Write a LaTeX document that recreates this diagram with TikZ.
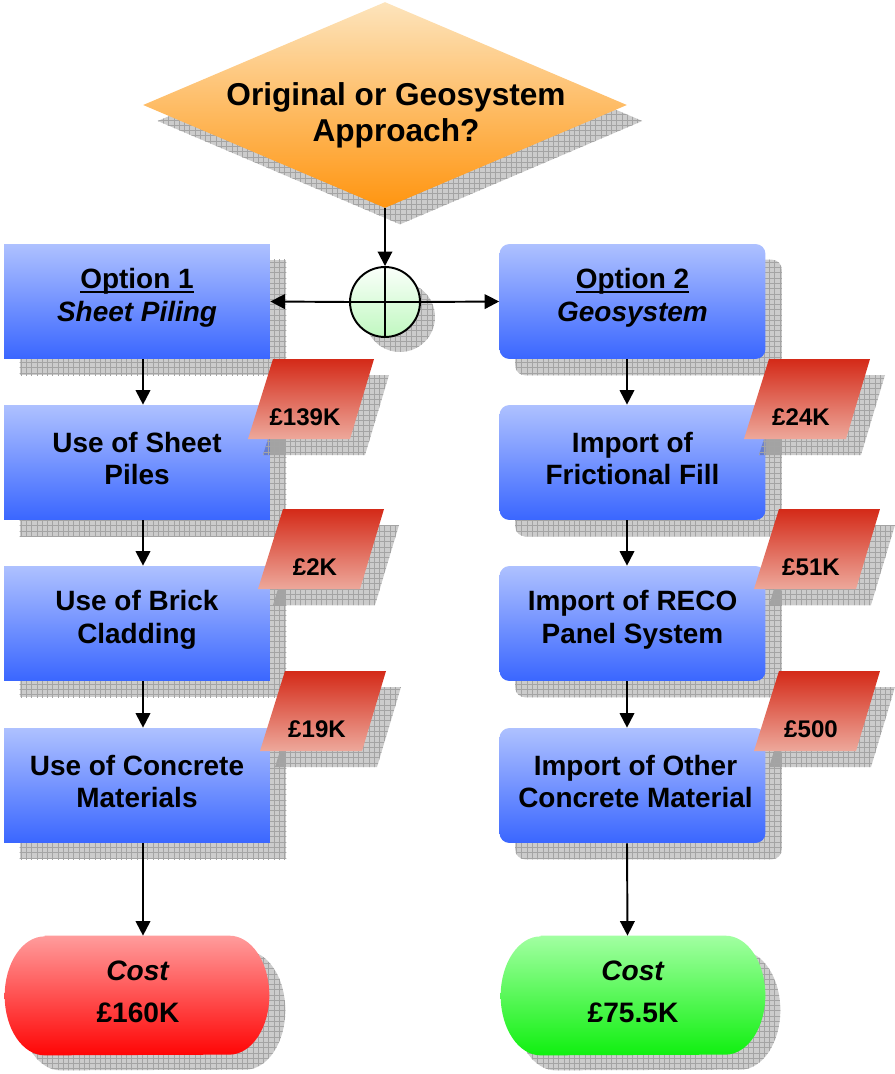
\documentclass[tikz,border=0pt]{standalone}
\usepackage{fontspec}
\setmainfont{Liberation Sans}
\usetikzlibrary{arrows.meta,shapes.geometric,patterns}

\definecolor{boxtop}{HTML}{AEC1FF}
\definecolor{boxbot}{HTML}{3A66FF}
\definecolor{diatop}{HTML}{FDE4BC}
\definecolor{diabot}{HTML}{FF9510}
\definecolor{hubtop}{HTML}{FAFFFA}
\definecolor{hubbot}{HTML}{C0F8C0}
\definecolor{tagtop}{HTML}{D42A18}
\definecolor{tagmid}{HTML}{E27C6C}
\definecolor{tagbot}{HTML}{EDA89B}
\definecolor{redtop}{HTML}{FF9C9C}
\definecolor{redbot}{HTML}{FF0505}
\definecolor{greentop}{HTML}{A2FFA2}
\definecolor{greenbot}{HTML}{10F010}
\definecolor{gridline}{HTML}{A4A4A4}

\pgfdeclarelayer{shadows}
\pgfdeclarelayer{tagshadows}
\pgfdeclarelayer{tags}
\pgfsetlayers{shadows,main,tagshadows,tags}

% underline with a heavier rule
\newcommand\optul[1]{\setbox0\hbox{#1}\rlap{\rule[-2.6pt]{\wd0}{1.1pt}}\box0}

% outline of a terminal with elliptic ends
\newcommand\stadium[1]{([xshift=0.8cm]#1.north west) -- ([xshift=-0.8cm]#1.north east)
  arc[start angle=90,end angle=-90,x radius=0.8cm,y radius=1.19cm]
  -- ([xshift=0.8cm]#1.south west)
  arc[start angle=270,end angle=90,x radius=0.8cm,y radius=1.19cm] -- cycle}

% cost tag: parallelogram with its shadow and amount
\newcommand\pricetag[3]{%
  \coordinate (#1) at #2;
  \begin{pgfonlayer}{tagshadows}
    \path[shadowfill] ([shift={(15,16)}]#1) -- ++(101,0) -- ++(-24,80) -- ++(-102,0) -- cycle;
  \end{pgfonlayer}
  \begin{pgfonlayer}{tags}
    \path[tagfill] (#1) -- ++(101,0) -- ++(-24,80) -- ++(-102,0) -- cycle;
    \node[tagtext] (#1t) at ([shift={(32,58)}]#1) {#3};
  \end{pgfonlayer}}

\begin{document}
\begin{tikzpicture}[x=0.02cm,y=-0.02cm,
  shadowfill/.style={fill=black, fill opacity=0.2,
    postaction={fill opacity=0.55, pattern=grid, pattern color=gridline}},
  optbox/.style={rectangle, minimum width=5.32cm, minimum height=2.3cm,
    inner sep=0, top color=boxtop, bottom color=boxbot},
  optround/.style={optbox, rounded corners=0.2cm},
  boxtext/.style={font=\fontsize{15.9}{18.7}\selectfont\bfseries, align=center},
  costbox/.style={rectangle, minimum width=5.28cm, minimum height=2.38cm, inner sep=0},
  costtext/.style={font=\fontsize{16}{23.8}\selectfont\bfseries, align=center},
  tagfill/.style={top color=tagtop, middle color=tagmid, bottom color=tagbot},
  tagtext/.style={font=\fontsize{13.7}{16}\selectfont\bfseries},
  arr/.style={line width=1.1pt, -{Triangle[length=0.29cm,width=0.29cm]}},
  link/.style={line width=1.1pt}]

\useasboundingbox (0,0) rectangle (895,1074);

% decision
\node[diamond, shape aspect=2.35, minimum width=9.68cm, minimum height=4.12cm,
  inner sep=0, top color=diatop, bottom color=diabot] (ask) at (385,105) {};
\node[font=\fontsize{18}{20.4}\selectfont\bfseries, align=center] (askt) at (396,115)
  {Original or Geosystem\\Approach?};

% junction
\node[circle, minimum size=1.4cm, inner sep=0, draw, line width=1.1pt,
  top color=hubtop, bottom color=hubbot] (hub) at (385,302) {};
\draw[link] (hub.north) -- (hub.south) (hub.west) -- (hub.east);

% option 1 column
\node[optbox] (o1) at (137,301.5) {};
\node[optbox] (l2) at (137,462.5) {};
\node[optbox] (l3) at (137,623.5) {};
\node[optbox] (l4) at (137,785.5) {};
\node[boxtext] (o1t) at ([shift={(0,-4)}]o1.center) {\optul{Option 1}\\\textit{Sheet Piling}};
\node[boxtext] (l2t) at ([shift={(0,-4)}]l2.center) {Use of Sheet\\Piles};
\node[boxtext] (l3t) at ([shift={(0,-4)}]l3.center) {Use of Brick\\Cladding};
\node[boxtext] (l4t) at ([shift={(0,-4)}]l4.center) {Use of Concrete\\Materials};

% option 2 column
\node[optround] (o2) at (632.5,301.5) {};
\node[optround] (r2) at (632.5,462.5) {};
\node[optround] (r3) at (632.5,623.5) {};
\node[optround] (r4) at (632.5,785.5) {};
\node[boxtext] (o2t) at ([shift={(0,-4)}]o2.center) {\optul{Option 2}\\\textit{Geosystem}};
\node[boxtext] (r2t) at ([shift={(0,-4)}]r2.center) {Import of\\Frictional Fill};
\node[boxtext] (r3t) at ([shift={(0,-4)}]r3.center) {Import of RECO\\Panel System};
\node[boxtext] (r4t) at ([shift={(3,-4)}]r4.center) {Import of Other\\Concrete Material};

% totals
\node[costbox] (c1) at (137,995.5) {};
\node[costbox] (c2) at (633,995.5) {};
\path[top color=redtop, bottom color=redbot] \stadium{c1};
\path[top color=greentop, bottom color=greenbot] \stadium{c2};
\node[costtext] (c1t) at ([shift={(1,-4)}]c1.center) {\textit{Cost}\\£160K};
\node[costtext] (c2t) at ([shift={(0,-4)}]c2.center) {\textit{Cost}\\£75.5K};

% drop shadows
\begin{pgfonlayer}{shadows}
  \path[shadowfill] ([shift={(15,16)}]ask.north) -- ([shift={(15,16)}]ask.east)
    -- ([shift={(15,16)}]ask.south) -- ([shift={(15,16)}]ask.west) -- cycle;
  \path[shadowfill] ([shift={(15,15)}]hub.center) circle[radius=0.7cm];
  \foreach \b in {o1,l2,l3,l4}
    \path[shadowfill] ([shift={(16,16)}]\b.north west) rectangle ([shift={(16,16)}]\b.south east);
  \foreach \b in {o2,r2,r3,r4}
    \path[shadowfill, rounded corners=0.2cm] ([shift={(16,16)}]\b.north west) rectangle ([shift={(16,16)}]\b.south east);
  \path[shadowfill, transform canvas={shift={(16,15)}}] \stadium{c1};
  \path[shadowfill, transform canvas={shift={(15,15)}}] \stadium{c2};
\end{pgfonlayer}

% connectors
\draw[arr] (ask.south) -- (hub.north);
\draw[arr] (hub.west) -- (o1.east);
\draw[arr] (hub.east) -- (o2.west);
\foreach \a/\b in {o1/l2,l2/l3,l3/l4,l4/c1}
  \draw[arr] ([xshift=0.12cm]\a.south) -- ([xshift=0.12cm]\b.north);
\foreach \a/\b in {o2/r2,r2/r3,r3/r4,r4/c2}
  \draw[arr] ([xshift=-0.11cm]\a.south) -- ([xshift=-0.11cm]\b.north);

% cost tags
\pricetag{p1}{(273,359)}{£139K}
\pricetag{p2}{(283,509)}{£2K}
\pricetag{p3}{(285,671)}{£19K}
\pricetag{g1}{(769,359)}{£24K}
\pricetag{g2}{(779,509)}{£51K}
\pricetag{g3}{(779,671)}{£500}

\end{tikzpicture}
\end{document}
